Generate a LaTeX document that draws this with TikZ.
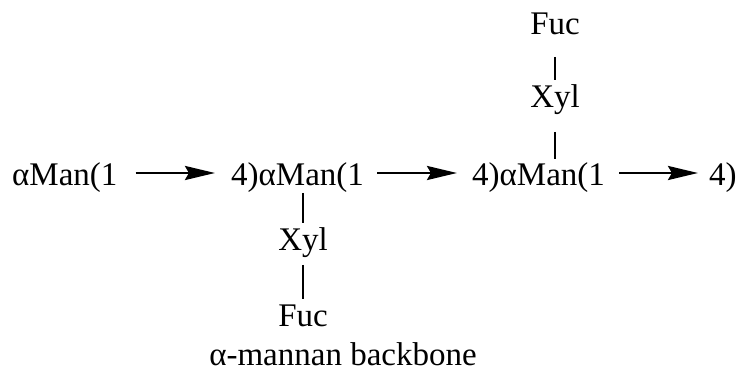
\documentclass[tikz,border=0pt]{standalone}
\usepackage{fontspec}
\setmainfont{Liberation Serif}
\usetikzlibrary{arrows.meta}
\begin{document}
\begin{tikzpicture}[x=1pt,y=1pt,
  lbl/.style={inner sep=0pt,font=\fontsize{33}{38}\selectfont},
  bond/.style={line width=2.3pt},
  glyarrow/.style={line width=2.7pt,-{Stealth[length=30pt,width=14pt,inset=4pt]}}]
\useasboundingbox (0,0) rectangle (740,383);
% main chain
\node[lbl,anchor=base west] (m1) at (12,197) {αMan(1};
\node[lbl,anchor=base west] (m2) at (231,197) {4)αMan(1};
\node[lbl,anchor=base west] (m3) at (472,197) {4)αMan(1};
\node[lbl,anchor=base west] (m4) at (709,197) {4)};
% branches
\node[lbl,anchor=base] (xt) at (555,275) {Xyl};
\node[lbl,anchor=base] (ft) at (555,348) {Fuc};
\node[lbl,anchor=base] (xb) at (303,132) {Xyl};
\node[lbl,anchor=base] (fb) at (303,56) {Fuc};
\node[lbl,anchor=base] (cap) at (343,17) {α-mannan backbone};
% arrows
\draw[glyarrow] ([yshift=13pt]m1.base east) ++(18pt,0) -- ([xshift=-16pt,yshift=13pt]m2.base west);
\draw[glyarrow] ([yshift=13pt]m2.base east) ++(13pt,0) -- ([xshift=-15pt,yshift=13pt]m3.base west);
\draw[glyarrow] ([yshift=13pt]m3.base east) ++(14pt,0) -- ([xshift=-11pt,yshift=13pt]m4.base west);
% bonds
\draw[bond] ([yshift=-22pt]ft.base) -- ([yshift=28pt]xt.base);
\draw[bond] ([yshift=-24pt]xt.base) -- ([yshift=27pt]xt.base |- m3.base);
\draw[bond] ([yshift=-7pt]xb.base |- m2.base) -- ([yshift=28pt]xb.base);
\draw[bond] ([yshift=-14pt]xb.base) -- ([yshift=28pt]fb.base);
\end{tikzpicture}
\end{document}
